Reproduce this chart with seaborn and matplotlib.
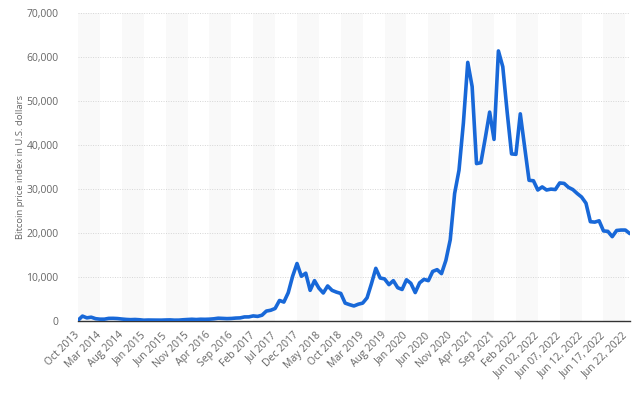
import matplotlib
matplotlib.use("Agg")
import matplotlib.pyplot as plt
import numpy as np
import pandas as pd
import seaborn as sns
from matplotlib.ticker import FuncFormatter

# Tick labels shown on the x axis (every fifth category)
tick_labels = [
    "Oct 2013", "Mar 2014", "Aug 2014", "Jan 2015", "Jun 2015", "Nov 2015",
    "Apr 2016", "Sep 2016", "Feb 2017", "Jul 2017", "Dec 2017", "May 2018",
    "Oct 2018", "Mar 2019", "Aug 2019", "Jan 2020", "Jun 2020", "Nov 2020",
    "Apr 2021", "Sep 2021", "Feb 2022", "Jun 02, 2022", "Jun 07, 2022",
    "Jun 12, 2022", "Jun 17, 2022", "Jun 22, 2022",
]

# Monthly values Oct 2013 - May 2022, then daily values Jun 01 - Jun 23, 2022
monthly_prices = [
    200, 1150, 750, 900, 560, 450, 450, 630, 640, 590, 480, 390,          # Oct 13 - Sep 14
    340, 380, 320, 220, 255, 245, 235, 230, 265, 285, 230, 235,           # Oct 14 - Sep 15
    315, 375, 430, 370, 435, 415, 450, 530, 670, 625, 575, 610,           # Oct 15 - Sep 16
    700, 740, 960, 970, 1190, 1080, 1350, 2290, 2480, 2880, 4700, 4340,   # Oct 16 - Sep 17
    6470, 10200, 13100, 10200, 10900, 7000, 9200, 7500, 6400, 8000, 7000, 6600,  # Oct 17 - Sep 18
    6300, 4100, 3750, 3450, 3850, 4100, 5300, 8500, 12000, 9800, 9600, 8300,     # Oct 18 - Sep 19
    9200, 7600, 7200, 9400, 8600, 6500, 8700, 9500, 9200, 11300, 11700, 10800,   # Oct 19 - Sep 20
    13800, 18500, 29000, 34300, 45000, 58800, 53300, 35800, 36000, 41600, 47500, 41300,  # Oct 20 - Sep 21
    61400, 57800, 47500, 38000, 37900, 47100, 39500, 32000,               # Oct 21 - May 22
]
daily_prices = [
    31900, 29800, 30500, 29800, 30000, 29900, 31400, 31300, 30400, 29900,
    29000, 28200, 26800, 22600, 22500, 22800, 20500, 20400, 19200, 20600,
    20700, 20700, 19900,
]

prices = monthly_prices + daily_prices
df = pd.DataFrame({"pos": np.arange(len(prices)), "price": prices})

sns.set_theme(style="white")
plt.rcParams["font.family"] = ["Open Sans", "DejaVu Sans"]

fig = plt.figure(figsize=(6.4, 3.96), dpi=100)
ax = fig.add_axes([0.122, 0.189, 0.862, 0.778])

n = len(prices)
# alternating light bands, one per labelled interval
for start in range(0, n - 1, 10):
    ax.axvspan(start, min(start + 5, n - 1), color="#f9f9f9", lw=0, zorder=0)

sns.lineplot(data=df, x="pos", y="price", ax=ax, color="#1868d8",
             linewidth=2.6, solid_capstyle="round", solid_joinstyle="round", zorder=3)

ax.set_xlim(0, n - 1)
ax.set_ylim(0, 70000)
ax.set_yticks(np.arange(0, 70001, 10000))
ax.yaxis.set_major_formatter(FuncFormatter(lambda v, p: f"{int(v):,}"))
ax.yaxis.grid(True, color="#d6d6d6", linestyle=(0, (1, 1.5)), linewidth=0.7)
ax.xaxis.grid(False)

ax.set_xticks(np.arange(0, 5 * len(tick_labels), 5))
ax.set_xticklabels(tick_labels, rotation=45, ha="right", va="center",
                   rotation_mode="anchor")

ax.tick_params(axis="y", length=0, pad=14, labelsize=7.5, labelcolor="#666666")
ax.tick_params(axis="x", length=0, pad=9, labelsize=7.5, labelcolor="#666666")

for side in ["top", "right", "left"]:
    ax.spines[side].set_visible(False)
ax.spines["bottom"].set_color("#333333")
ax.spines["bottom"].set_linewidth(1.0)

ax.set_xlabel("")
ax.set_ylabel("Bitcoin price index in U.S. dollars", fontsize=6.8, color="#666666",
              labelpad=1)

fig.savefig("out.png", dpi=100)
